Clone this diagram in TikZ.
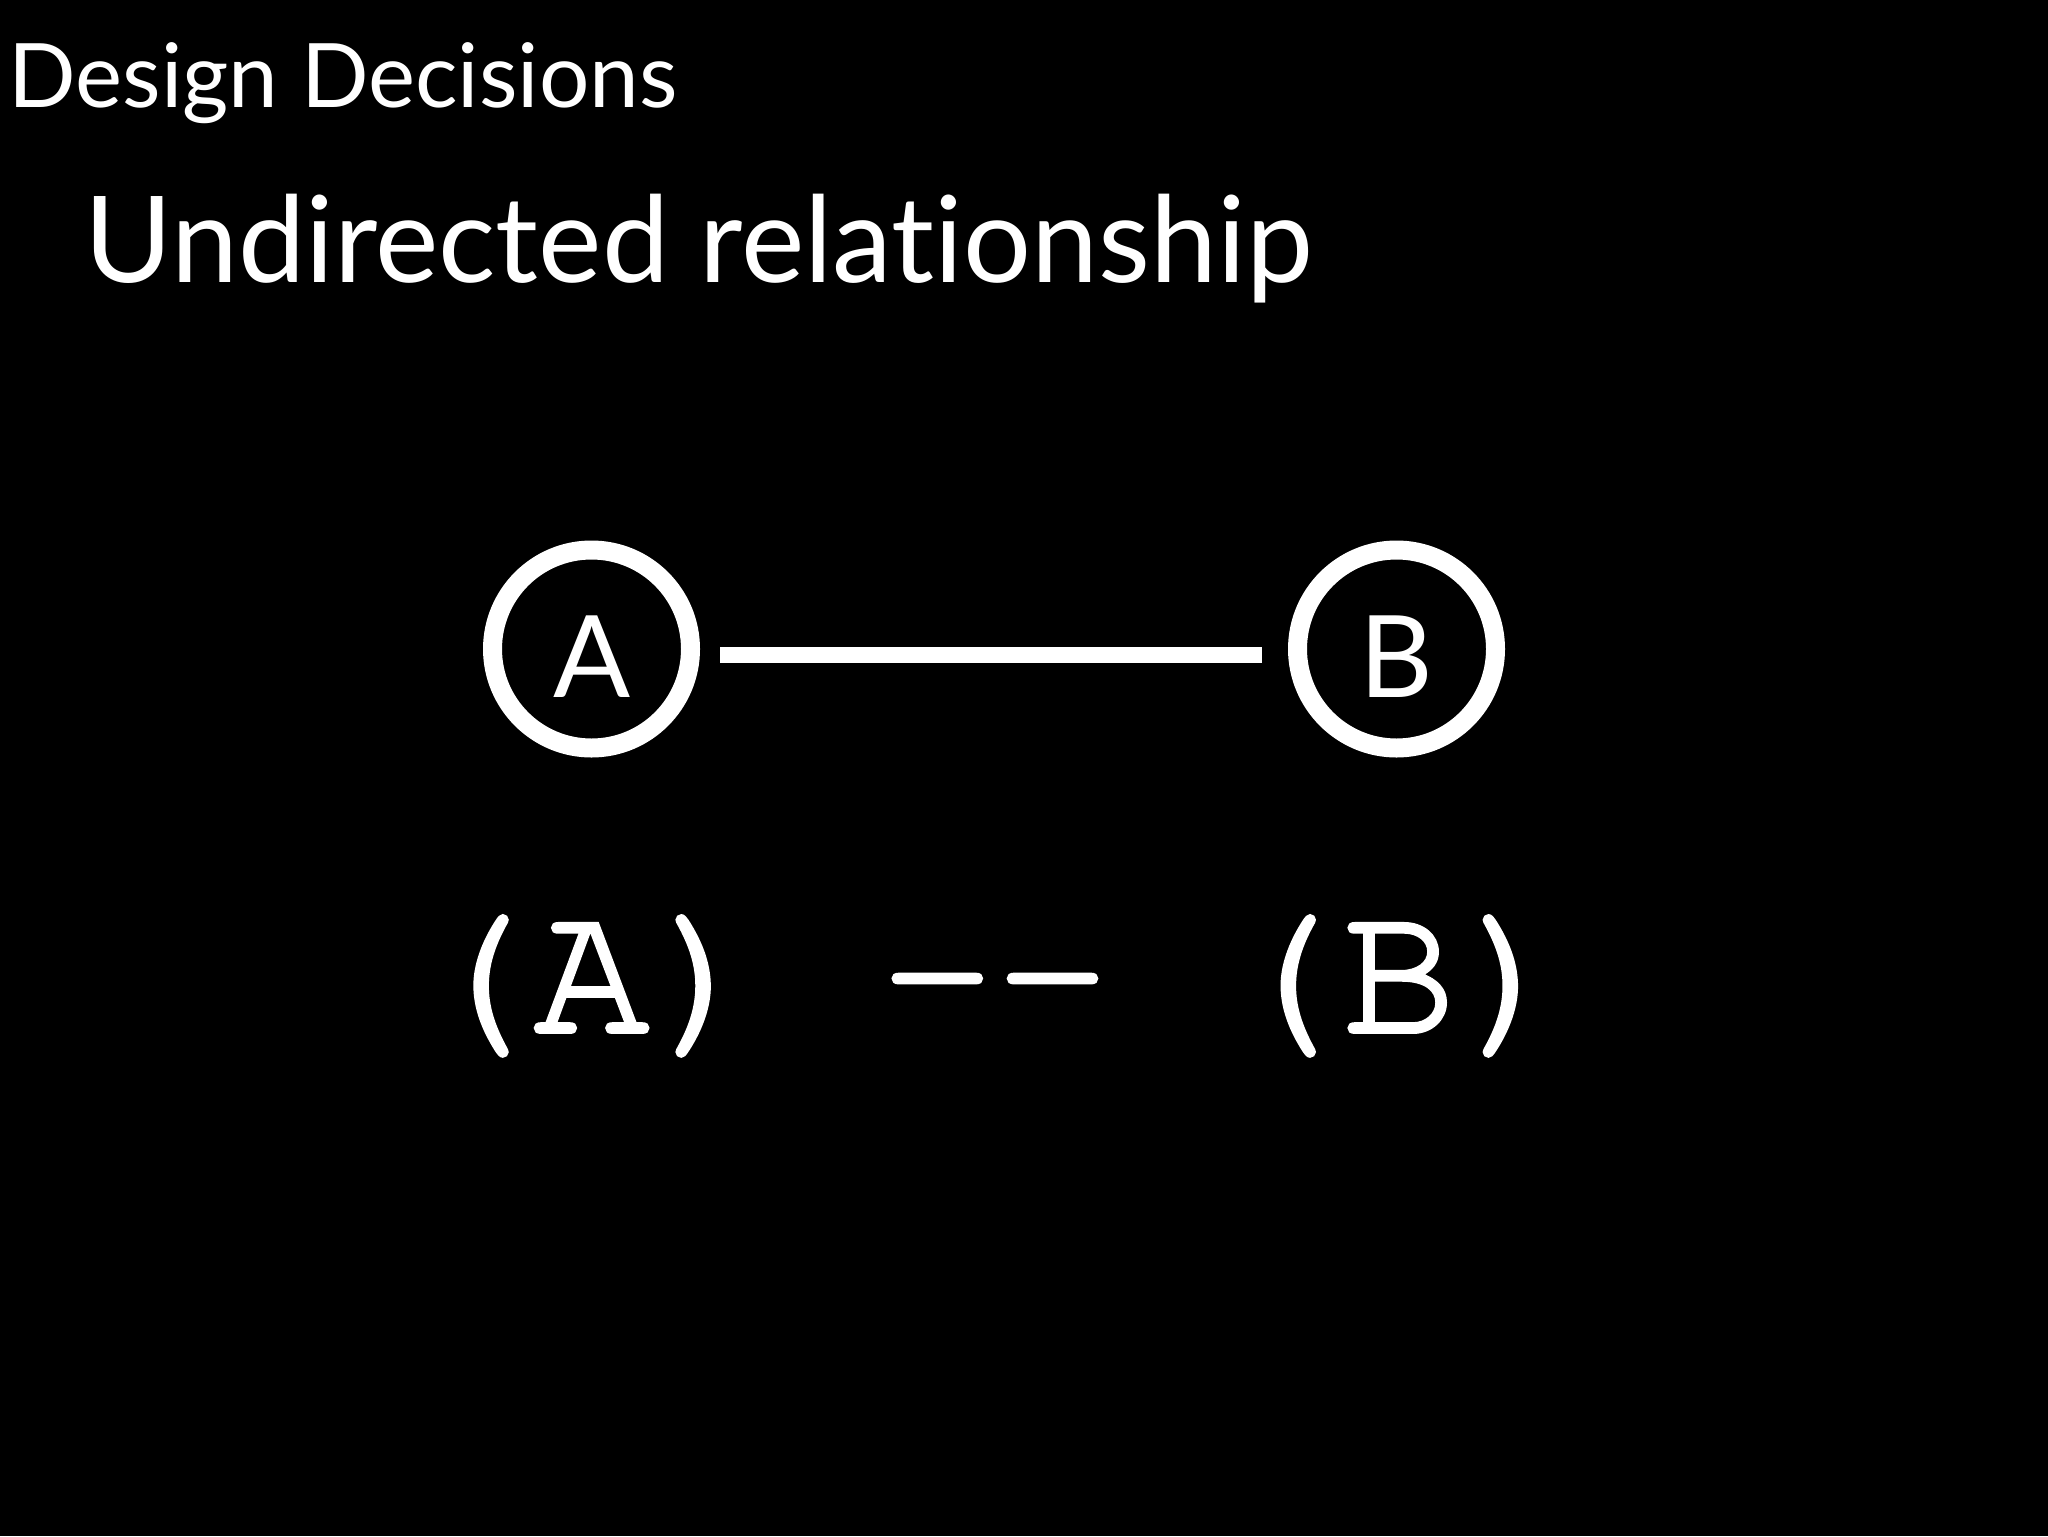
\documentclass[tikz,border=0pt]{standalone}
\usepackage{fontspec}
\setmainfont{Lato}[Ligatures=NoCommon]
\newfontfamily\codefont{TeX Gyre Cursor}[FakeBold=2]
\begin{document}
\begin{tikzpicture}[x=0.5pt,y=-0.5pt,
  ring/.style={circle, draw=white, line width=9.5pt, minimum size=99pt, inner sep=0pt},
  letter/.style={text=white, font=\fontsize{57}{57}\selectfont, inner sep=0pt},
  conn/.style={draw=white, line width=8pt},
  code/.style={text=white, font=\codefont\fontsize{96}{96}\selectfont, inner sep=0pt, anchor=base},
  heading/.style={text=white, inner sep=0pt, anchor=base west}]
\fill[black] (0,0) rectangle (2048,1536);
\useasboundingbox (0,0) rectangle (2048,1536);
\node[heading, font=\fontsize{44.5}{44.5}\selectfont] (title) at (8,108) {Design Decisions};
\node[heading, font=\fontsize{60}{60}\selectfont] (sub) at (84,282) {Undirected relationship};
\node[ring] (A) at (591.5,649) {};
\node[ring] (B) at (1396.5,649) {};
\node[letter] (Alab) at (592,656.5) {A};
\node[letter] (Blab) at (1396,656.5) {B};
\draw[conn, shorten <=10pt, shorten >=13.2pt] ([yshift=-2.85pt]A.east) -- ([yshift=-2.85pt]B.west);
\node[code] (cA) at (591.6,1032) {(A)};
\node[code] (dash) at (994.9,1032) {-{}-};
\node[code] (cB) at (1398.8,1032) {(B)};
\end{tikzpicture}
\end{document}
